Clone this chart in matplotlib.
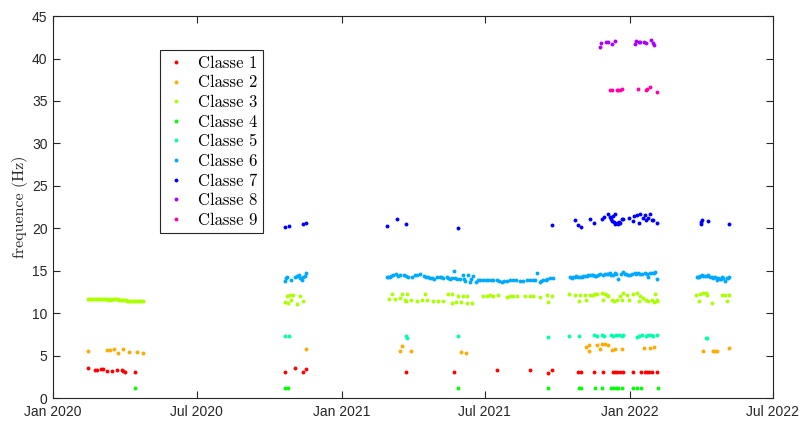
import numpy as np
import pandas as pd
import matplotlib
matplotlib.use('Agg')
import matplotlib.pyplot as plt
import matplotlib.dates as mdates

# ==========================================
# Data (days since 2020-01-01, frequency in Hz)
# ==========================================
T0 = pd.Timestamp('2020-01-01')

c1_days = [44.7, 53.2, 55.4, 60.4, 63, 68, 74.7, 81.4, 87, 89, 91.6, 103.5,
           294, 307, 317, 320,
           447.5, 507.5, 562.8, 604.6, 626.6, 631.7,
           665.4, 668.4, 685.6, 696.3, 708.9, 711.8, 714.8, 718.2, 721.6, 735.1,
           744.4, 749.9, 752, 755.3, 758.3, 765.4]
c1_vals = [3.57, 3.30, 3.30, 3.37, 3.37, 3.18, 3.18, 3.30, 3.30, 3.18, 3.06, 3.02,
           3.02, 3.49, 3.02, 3.37,
           3.02, 3.06, 3.30, 3.30, 2.98, 3.30,
           3.10, 3.10, 3.10, 3.10, 3.10, 3.10, 3.10, 3.10, 3.10, 3.10,
           3.10, 3.10, 3.10, 3.10, 3.10, 3.10]

c2_days = [44.7, 68, 72.2, 77.3, 82.3, 89, 96.6, 106, 113.6,
           320,
           439.5, 442.5, 453.5, 516.4, 523.6,
           674.7, 679.3, 679.3, 688.7, 692.9, 695, 699.2, 703.4, 707.6, 711.8,
           720.3, 748.6, 756.2, 761.7,
           822.8, 836.4, 838.5, 841.5, 856.7]
c2_vals = [5.57, 5.65, 5.62, 5.81, 5.30, 5.81, 5.38, 5.38, 5.30,
           5.81,
           5.54, 6.16, 5.54, 5.42, 5.26,
           6.04, 6.24, 5.57, 6.24, 5.73, 6.32, 6.32, 6.24, 5.65, 5.73,
           5.77, 5.85, 5.93, 6.04,
           5.57, 5.54, 5.57, 5.57, 5.85]

c3_days = [44, 46, 48, 50, 52, 54, 56, 58, 60, 62, 64, 66, 68, 70, 72, 74, 76, 78,
           80, 82, 84, 86, 88, 90, 92, 94, 96, 98, 100, 102, 104, 106, 108, 110,
           112, 114,
           294, 296, 298, 300, 302, 304, 309, 313, 317,
           425.6, 429.8, 432.8, 439.5, 441.6, 445.9, 447.1, 448, 453.9, 460.6,
           467.8, 471.2, 474.1, 481.7, 488, 494.4, 500.7, 505, 505, 510.5,
           513.4, 516.4, 519.8, 524, 524.8, 530.3, 545.1, 549.3, 553.5, 557.7,
           564, 574.7, 578.9, 583.1, 587.3, 597.9, 604.2, 608.4, 616.9, 625.3,
           627.4, 631.7,
           654, 661.2, 666.7, 667.5, 673.9, 675.1, 680.2, 683.6, 686.5, 689.5,
           695, 696.3, 699.2, 701.3, 703.4, 707.6, 710.6, 714, 718.2, 720.3,
           722.4, 727.4, 730, 735.1, 739.3, 741.8, 743.5, 747.7, 751.1, 754,
           758.3, 761.7, 762.5, 764.6, 765.4,
           814.5, 817.8, 819.5, 823.7, 827.1, 828.8, 834.7, 847, 851.2, 854.1,
           855.8]
c3_vals = [11.66, 11.64, 11.62, 11.64, 11.66, 11.63, 11.65, 11.67, 11.70, 11.68,
           11.65, 11.64, 11.62, 11.60, 11.63, 11.58, 11.62, 11.64, 11.62, 11.63,
           11.60, 11.56, 11.58, 11.55, 11.52, 11.48, 11.42, 11.40, 11.38, 11.45,
           11.42, 11.44, 11.40, 11.42, 11.38, 11.40,
           11.35, 12.05, 11.23, 12.13, 11.54, 12.13, 11.10, 12.01, 11.42,
           11.62, 12.21, 11.62, 11.78, 12.21, 11.54, 11.42, 12.21, 11.54, 11.46,
           11.54, 12.21, 11.54, 11.39, 11.46, 11.46, 12.21, 12.21, 11.15, 11.31,
           12.05, 11.31, 12.01, 11.23, 12.01, 11.23, 12.01, 12.01, 12.13, 12.01,
           12.09, 11.94, 12.01, 12.05, 12.01, 12.01, 12.01, 12.01, 11.94, 12.09,
           11.27, 12.01,
           12.21, 12.17, 11.42, 12.17, 12.17, 11.54, 12.17, 12.17, 12.25, 12.21,
           12.33, 11.54, 12.25, 12.13, 12.01, 11.54, 11.46, 11.54, 12.01, 11.54,
           12.41, 12.17, 11.54, 12.25, 12.33, 11.42, 12.01, 11.74, 11.54, 11.46,
           11.54, 11.35, 12.25, 11.54, 11.42,
           12.13, 11.42, 12.21, 12.33, 12.33, 12.17, 11.19, 12.17, 12.09, 11.39,
           12.17]

c4_days = [103.5, 294, 298, 512.6, 626.6, 666.7, 668.8, 686.5, 695.8, 706.8,
           709.7, 713.1, 716.1, 721.1, 735.1, 740.1, 744.4, 765.9]
c4_vals = [1.22, 1.22, 1.22, 1.18, 1.18, 1.16, 1.16, 1.16, 1.16, 1.16,
           1.16, 1.16, 1.16, 1.16, 1.16, 1.16, 1.16, 1.16]

c5_days = [294, 299, 447, 448.8, 512.6, 626.6,
           654, 666.3, 685.6, 688.7, 695, 697.9, 706.4, 709.7, 713.1, 717.4,
           720.3, 722.4, 739.3, 742.6, 745.7, 751.1, 754, 757.5, 760.4, 765.4,
           827.1, 828]
c5_vals = [7.34, 7.34, 7.34, 7.10, 7.26, 7.22,
           7.30, 7.30, 7.38, 7.30, 7.38, 7.30, 7.38, 7.30, 7.38, 7.38,
           7.30, 7.38, 7.22, 7.30, 7.38, 7.30, 7.38, 7.46, 7.30, 7.38,
           7.03, 7.10]

c6_days = [294, 295, 296, 302, 306, 309, 311, 313, 315, 317, 319, 320,
           422.7, 424, 426.9, 428, 431.1, 434.5, 437.4, 440, 444.6, 447, 450.1,
           454.3, 458, 461, 464.9, 469.9, 472, 475.4, 477, 479.6, 482.6, 486,
           490.2, 492, 494.4, 498.7, 500, 502.9, 505, 507.9, 509.2, 512, 515.5,
           518.9, 520, 521.9, 526, 528.2, 530, 532.4, 535.8, 538.8, 541, 545.1,
           548, 551.4, 555, 557.7, 562, 565, 568.3, 571, 574.7, 579, 583.1, 587,
           591.5, 595, 600, 604, 608.4, 611, 613.5, 616.9, 618, 621.1, 624, 626,
           629.5, 633,
           654.9, 657, 659, 661.2, 663, 665.4, 667, 669.6, 671, 673.9, 676, 678,
           680, 682.3, 684, 686.5, 688, 690.7, 692.9, 697, 699, 701.3, 703,
           705.5, 707, 709.7, 711.8, 713, 716.1, 720, 722.4, 724.5, 726, 728.7,
           731, 734, 737.2, 739, 741.4, 743.5, 746, 749.9, 752, 754, 756, 758.3,
           761.7, 763, 765.4,
           815.3, 817, 818.7, 820, 821.6, 824, 825.8, 828, 830, 832, 834.3, 836,
           838.5, 840.6, 842.7, 844.9, 846, 847, 849, 851.2, 853.3, 855, 856.7]
c6_vals = [13.82, 14.10, 14.21, 13.90, 14.25, 14.33, 14.45, 14.10, 13.90, 14.21,
           14.33, 14.68,
           14.21, 14.25, 14.29, 14.33, 14.49, 14.60, 14.41, 14.45, 14.53, 14.37,
           14.29, 14.21, 14.45, 14.49, 14.57, 14.33, 14.25, 14.21, 14.17, 14.13,
           14.02, 14.21, 14.29, 14.25, 14.13, 14.29, 14.17, 14.02, 14.10, 14.96,
           14.10, 14.06, 13.98, 14.45, 14.06, 13.82, 14.45, 13.70, 13.98, 14.37,
           13.70, 13.90, 13.90, 13.94, 13.94, 13.94, 13.86, 13.90, 13.94, 13.82,
           13.70, 13.78, 13.82, 13.86, 13.94, 13.90, 13.78, 13.82, 13.94, 13.86,
           13.94, 13.90, 14.68, 13.70, 13.78, 13.90, 13.94, 14.06, 14.10, 14.17,
           14.29, 14.10, 14.25, 14.29, 14.33, 14.29, 14.29, 14.29, 14.33, 14.37,
           14.41, 14.49, 14.45, 14.49, 14.45, 14.37, 14.41, 14.49, 14.57, 14.53,
           14.57, 14.57, 14.60, 14.68, 14.53, 14.49, 14.68, 14.60, 13.98, 14.64,
           14.88, 14.60, 14.57, 14.49, 14.53, 14.60, 14.68, 14.64, 14.68, 14.60,
           14.64, 14.68, 14.57, 14.21, 14.72, 14.76, 14.76, 14.80, 13.98,
           14.21, 14.25, 14.29, 14.37, 14.45, 14.41, 14.37, 14.41, 14.45, 14.29,
           14.21, 14.17, 14.21, 13.90, 14.13, 13.98, 14.06, 14.21, 14.13, 13.82,
           14.10, 14.17, 14.29]

c7_days = [294, 299, 317, 320,
           422.7, 435.3, 447.5, 512.6, 631.7,
           661.2, 665.4, 668.4, 680.2, 685.6, 695, 697.9, 703.4, 705.5, 706.8,
           707.6, 708.9, 710, 711.8, 712.5, 714, 716.1, 717, 718.2, 720.3, 722.4,
           730, 734.3, 736.3, 739.3, 741.8, 743.5, 747, 749.4, 751.1, 754, 756.2,
           758.3, 760, 765.4,
           820.3, 821.2, 822, 830, 856.7]
c7_vals = [20.10, 20.30, 20.50, 20.65,
           20.30, 21.08, 20.46, 19.98, 20.38,
           20.97, 20.38, 20.18, 21.08, 20.65, 21.04, 21.28, 21.63, 21.28, 21.04,
           20.85, 21.44, 20.70, 21.63, 20.50, 20.65, 20.46, 20.75, 20.57, 21.04,
           21.08, 21.16, 20.85, 21.44, 21.55, 20.65, 21.63, 21.20, 21.55, 20.97,
           21.16, 21.63, 20.97, 21.00, 20.65,
           20.46, 20.70, 20.97, 20.89, 20.46]

c8_days = [692.9, 694.1, 700.5, 703.4, 707.6, 711.8, 737.2, 738.1, 742.6, 743.5,
           749, 751.1, 757.1, 759.6, 761.2]
c8_vals = [41.38, 41.77, 41.89, 41.93, 41.70, 42.05, 41.66, 42.05, 41.97, 41.89,
           41.89, 41.77, 42.17, 41.77, 41.54]

c9_days = [705.5, 707.6, 714, 716.1, 718.2, 721.1, 741.4, 750.7, 752.7, 756.2,
           765.4]
c9_vals = [36.28, 36.32, 36.24, 36.24, 36.28, 36.36, 36.36, 36.32, 36.36, 36.60,
           36.08]

class_days = [c1_days, c2_days, c3_days, c4_days, c5_days, c6_days, c7_days,
              c8_days, c9_days]
class_vals = [c1_vals, c2_vals, c3_vals, c4_vals, c5_vals, c6_vals, c7_vals,
              c8_vals, c9_vals]
labels = ['Classe %d' % (i + 1) for i in range(9)]
colors = ['#ff0000', '#ffaa00', '#aaff00', '#00ff00', '#00ffaa', '#00aaff',
          '#0000ff', '#aa00ff', '#ff00aa']

# ==========================================
# Plot
# ==========================================
plt.rcParams['font.family'] = ['Liberation Sans', 'DejaVu Sans']
axis_col = '#262626'

fig = plt.figure(figsize=(8.03, 4.23), dpi=100)
ax = fig.add_axes([0.066, 0.059, 0.8966, 0.903])

for d, v, lab, c in zip(class_days, class_vals, labels, colors):
    dates = T0 + pd.to_timedelta(np.array(d), unit='D')
    ax.plot(dates, v, linestyle='none', marker='o', ms=2.8, mew=0,
            color=c, label=lab)

ax.set_xlim(pd.Timestamp('2020-01-01'), pd.Timestamp('2022-07-01'))
ax.set_ylim(0, 45)
ax.set_yticks(np.arange(0, 46, 5))
ax.xaxis.set_major_locator(mdates.MonthLocator(bymonth=[1, 7]))
ax.xaxis.set_major_formatter(mdates.DateFormatter('%b %Y'))

ax.tick_params(direction='in', length=5, width=0.8, colors=axis_col,
               labelsize=10, top=True, right=True)
ax.tick_params(axis='x', pad=5)
ax.tick_params(axis='y', pad=4)
for s in ax.spines.values():
    s.set_color(axis_col)
    s.set_linewidth(0.8)

ax.set_ylabel('frequence (Hz)', family='cmr10', fontsize=11.5, color=axis_col,
              labelpad=2.5)

leg = ax.legend(loc='upper left', bbox_to_anchor=(0.149, 0.911),
                prop={'family': 'cmr10', 'size': 12}, frameon=True,
                fancybox=False, edgecolor=axis_col, framealpha=1,
                handlelength=1.3, handletextpad=0.65, labelspacing=0.26,
                borderpad=0.32, borderaxespad=0, markerscale=1.0)
leg.get_frame().set_linewidth(0.8)

fig.savefig('out.png', dpi=100)
